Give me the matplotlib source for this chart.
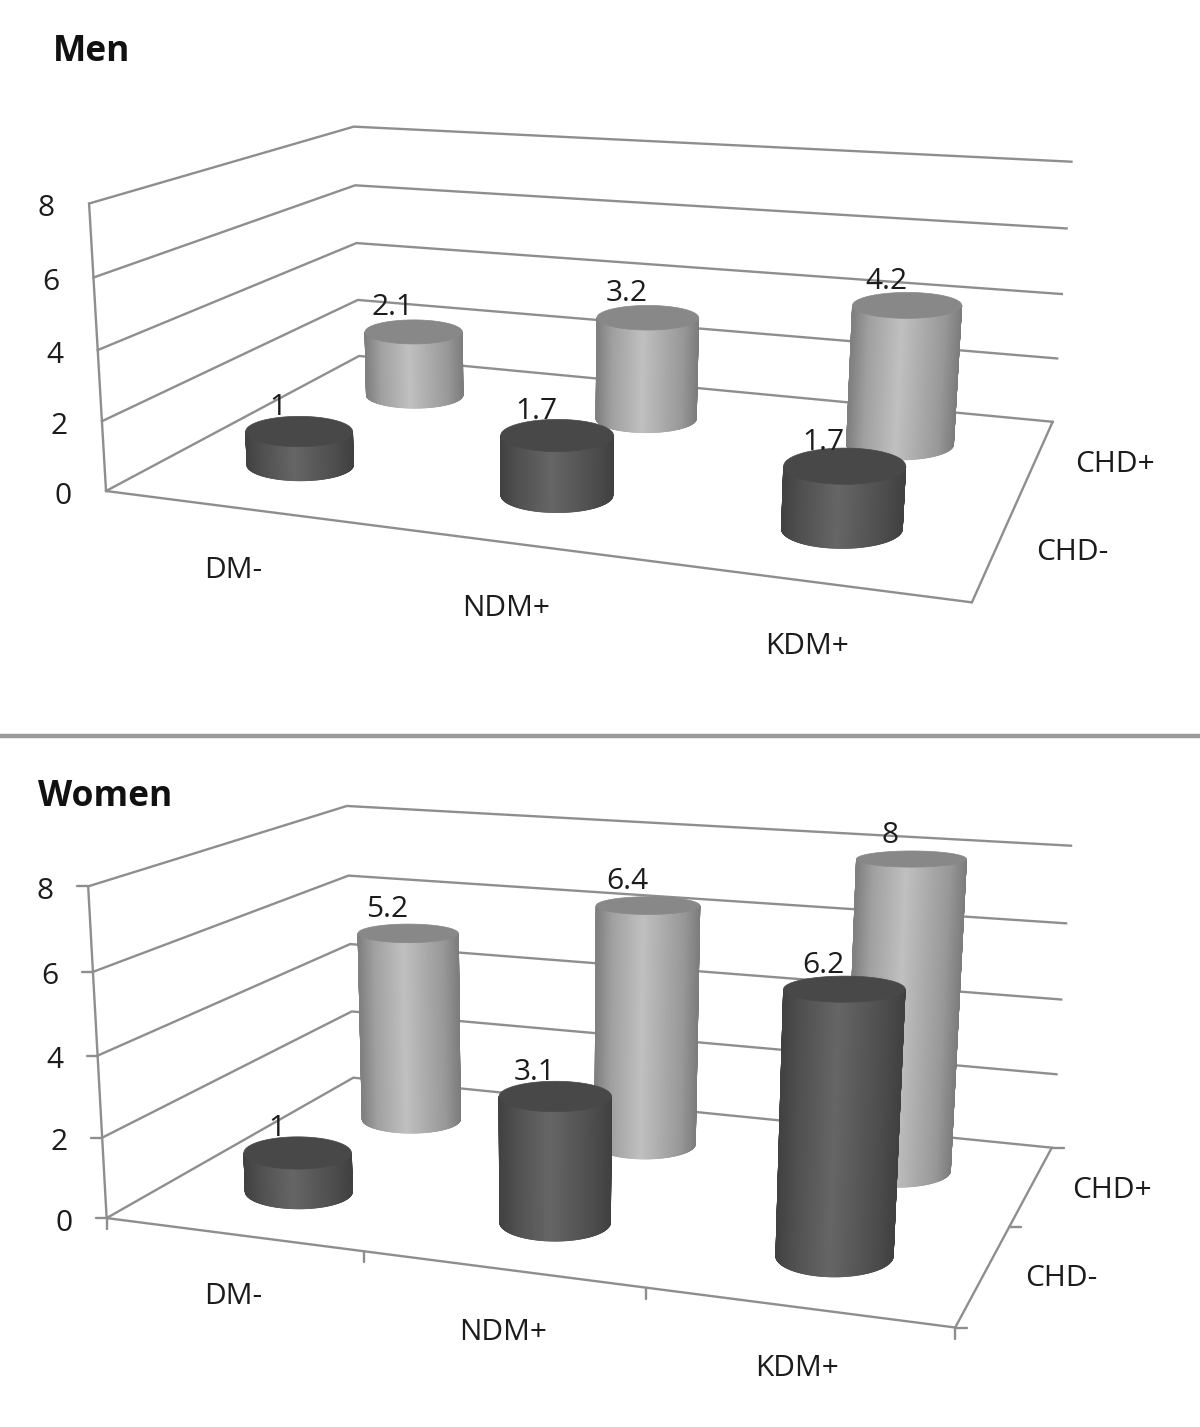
import numpy as np
import matplotlib
matplotlib.use("Agg")
import matplotlib.pyplot as plt
from matplotlib.collections import PolyCollection
from matplotlib.colors import LinearSegmentedColormap

categories = ["DM-", "NDM+", "KDM+"]
series_names = ["CHD-", "CHD+"]
value_ticks = [0, 2, 4, 6, 8]
men_chd_neg = [1, 1.7, 1.7]
men_chd_pos = [2.1, 3.2, 4.2]
women_chd_neg = [1, 3.1, 6.2]
women_chd_pos = [5.2, 6.4, 8]

plt.rcParams['font.family'] = ['Open Sans', 'DejaVu Sans']
LINE = '#8e8e8e'
TXT = '#1c1c1c'
FONT = 21.5
LW = 1.7
RADII = (.218, .207, .201)

dark_map = LinearSegmentedColormap.from_list('d', [(0, '#404040'), (.15, '#4c4c4c'), (.55, '#666666'), (.85, '#505050'), (1, '#424242')])
light_map = LinearSegmentedColormap.from_list('l', [(0, '#7c7c7c'), (.15, '#989898'), (.55, '#c0c0c0'), (.85, '#a0a0a0'), (1, '#808080')])
DARK_TOP = '#484848'
LIGHT_TOP = '#888888'

fig = plt.figure(figsize=(12, 14.27), dpi=100)
ax = fig.add_axes([0, 0, 1, 1])
ax.set_xlim(0, 1200)
ax.set_ylim(1427, 0)
ax.axis('off')


def fit_camera(corr):
    A, b = [], []
    for (x, y, z), (u, v) in corr:
        A.append([x, y, z, 1, 0, 0, 0, 0, -u*x, -u*y, -u*z]); b.append(u)
        A.append([0, 0, 0, 0, x, y, z, 1, -v*x, -v*y, -v*z]); b.append(v)
    h = np.linalg.lstsq(np.array(A, float), np.array(b, float), rcond=None)[0]
    return np.append(h, 1).reshape(3, 4)


def draw_panel(title, title_xy, neg, pos, corr, cat_xy, ser_xy, ticks, flat):
    P = fit_camera(corr)

    def pt(x, y, z):
        q = P @ np.array([x, y, z, 1.0])
        return q[0] / q[2], q[1] / q[2]

    def seg(a, b):
        ax.plot(*zip(a, b), color=LINE, lw=LW, solid_capstyle='round', zorder=1)

    for v in value_ticks:
        a, b, c = pt(0, 0, v), pt(0, 2, v), pt(3, 2, v)
        ax.plot([a[0], b[0], c[0]], [a[1], b[1], c[1]], color=LINE, lw=LW, zorder=1)
        ax.text(a[0] - 43, a[1] + 5, str(v), fontsize=FONT, color=TXT, ha='center', va='center', zorder=5)
    seg(pt(0, 0, 0), pt(0, 0, 8))
    seg(pt(0, 0, 0), pt(3, 0, 0))
    seg(pt(3, 0, 0), pt(3, 2, 0))

    if ticks:
        for i in range(4):
            a = pt(i, 0, 0)
            seg(a, (a[0], a[1] + 11))
        for j in range(3):
            a = pt(3, j, 0)
            seg(a, (a[0] + 12, a[1]))
        for v in value_ticks:
            a = pt(0, 0, v)
            seg(a, (a[0] - 11, a[1]))

    t = np.linspace(0, np.pi, 241)
    tf = np.linspace(0, 2*np.pi, 181)

    def half_axes(cx, cy, z, rx):
        u0, v0 = pt(cx, cy, z)
        w = (pt(cx + rx, cy, z)[0] - pt(cx - rx, cy, z)[0]) / 2
        return u0, v0, w, w * (flat[0] + flat[1] * (v0 - flat[2]))

    for j, vals, cmap, top in [(1, pos, light_map, LIGHT_TOP), (0, neg, dark_map, DARK_TOP)]:
        for i, val in enumerate(vals):
            cx, cy = i + .5, j + .5
            ub0, vb0, wb, hb = half_axes(cx, cy, 0, RADII[i])
            ut0, vt0, wt, ht = half_axes(cx, cy, val, RADII[i])
            ub, vb = ub0 + wb*np.cos(t), vb0 + hb*np.sin(t)
            ut, vt = ut0 + wt*np.cos(t), vt0 + ht*np.sin(t)
            quads, cols = [], []
            for k in range(len(t) - 1):
                quads.append([(ub[k], vb[k]), (ub[k+1], vb[k+1]), (ut[k+1], vt[k+1]), (ut[k], vt[k])])
                cols.append(cmap((1 - np.cos(t[k])) / 2))
            ax.add_collection(PolyCollection(quads, facecolors=cols, edgecolors=cols, linewidths=.6, zorder=2 + 2*(1 - j)))
            ax.fill(ut0 + wt*np.cos(tf), vt0 + ht*np.sin(tf), color=top, lw=.5, zorder=3 + 2*(1 - j))
            ax.text(ut0 - 21, vt0 - 24, f"{val:g}", fontsize=FONT, color=TXT, ha='center', va='center', zorder=6)

    for name, xy in zip(categories, cat_xy):
        ax.text(*xy, name, fontsize=FONT, color=TXT, ha='center', va='center')
    for name, xy in zip(series_names, ser_xy):
        ax.text(*xy, name, fontsize=FONT, color=TXT, ha='center', va='center')
    ax.text(*title_xy, title, fontsize=25.5, fontweight='bold', color='#111111', ha='left', va='center')


draw_panel("Men", (53, 52), men_chd_neg, men_chd_pos,
           [((0, 0, 0), (107, 490)), ((3, 0, 0), (972, 603)), ((3, 2, 0), (1053, 421)), ((0, 2, 0), (358, 357)),
            ((0, 0, 8), (88, 204)), ((0, 2, 8), (355, 126)), ((3, 2, 8), (1071, 162))],
           [(233, 571), (506, 608), (807, 646)], [(1072, 553), (1115, 464)], False, (.24, .00037, 313))

draw_panel("Women", (38, 797), women_chd_neg, women_chd_pos,
           [((0, 0, 0), (107, 1218)), ((3, 0, 0), (955, 1328)), ((3, 2, 0), (1052, 1147)), ((0, 2, 0), (353, 1078)),
            ((0, 0, 8), (88, 886)), ((0, 2, 8), (347, 806)), ((3, 2, 8), (1071, 846))],
           [(233, 1296), (503, 1333), (797, 1369)], [(1061, 1278), (1112, 1190)], True, (.15, .00052, 865))

ax.axhline(736, color='#9a9a9a', lw=3.2, zorder=1)
fig.savefig('out.png', dpi=100)
